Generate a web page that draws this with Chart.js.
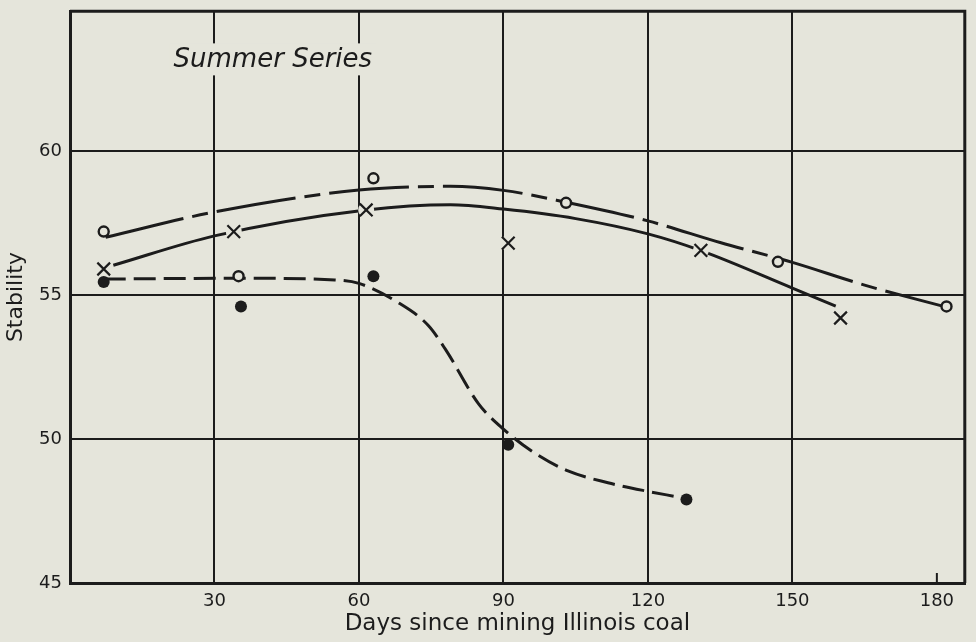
<!DOCTYPE html>
<html>
<head>
<meta charset="utf-8">
<title>Summer Series</title>
<script src="https://cdn.jsdelivr.net/npm/chart.js@4.4.1/dist/chart.umd.min.js"></script>
<style>
  body { margin: 0; background: #e5e5db; }
  #wrap { width: 976px; height: 642px; }
</style>
</head>
<body>
<div id="wrap"><canvas id="stabilityChart"></canvas></div>
<script>
// measured points: days since mining vs stability
const circleDays = [7, 63, 103, 147, 182];
const circleStability = [57.2, 59.05, 58.2, 56.15, 54.6];
const crossDays = [7, 34, 61.5, 91, 131, 160];
const crossStability = [55.9, 57.2, 57.95, 56.8, 56.55, 54.2];
const dotDays = [7, 35.5, 63, 91, 128];
const dotStability = [55.45, 54.6, 55.65, 49.8, 47.9];
const strayDays = [35];
const strayStability = [55.65];

// hand drawn curves
const upperCurveDays = [7.4, 30, 60, 79, 90, 103, 120, 135, 150, 165, 181];
const upperCurveStability = [57.0, 57.88, 58.64, 58.77, 58.63, 58.22, 57.57, 56.82, 56.13, 55.34, 54.62];
const middleCurveDays = [9, 30, 61.5, 79, 90, 105, 120, 131, 150, 159];
const middleCurveStability = [56.03, 57.05, 57.95, 58.13, 57.98, 57.65, 57.12, 56.54, 55.24, 54.61];
const lowerCurveDays = [7, 35, 55, 60, 68, 74.4, 78, 84.8, 90, 96.6, 103.4, 111.7, 120, 125.8];
const lowerCurveStability = [55.55, 55.58, 55.52, 55.4, 54.75, 53.94, 53.1, 51.23, 50.34, 49.5, 48.89, 48.48, 48.18, 48.0];

const xTicks = [30, 60, 90, 120, 150, 180];
const yTicks = [45, 50, 55, 60];

const ink = "#1c1c1c";
const paper = "#e5e5db";
const font = "'DejaVu Sans', sans-serif";

const pts = (xs, ys) => xs.map((x, i) => ({ x: x, y: ys[i] }));

const curve = (xs, ys, dash) => ({
    data: pts(xs, ys),
    showLine: true,
    borderColor: ink,
    borderWidth: 3,
    borderDash: dash,
    cubicInterpolationMode: "monotone",
    pointRadius: 0,
    order: 3
});

// frame, the lone 180 tick and the panel caption
const framePlugin = {
    id: "frame",
    beforeDatasetsDraw(chart) {
        const { ctx, scales: { x, y } } = chart;
        ctx.save();
        ctx.font = "italic 26px " + font;
        const tx = x.getPixelForValue(21.5);
        const ty = y.getPixelForValue(62.9);
        const w = ctx.measureText("Summer Series").width;
        ctx.fillStyle = paper;
        ctx.fillRect(tx - 4, ty - 24, w + 8, 32);
        ctx.fillStyle = ink;
        ctx.fillText("Summer Series", tx, ty);
        ctx.restore();
    },
    afterDraw(chart) {
        const { ctx, chartArea: a, scales: { x } } = chart;
        ctx.save();
        ctx.strokeStyle = ink;
        ctx.lineWidth = 3;
        ctx.beginPath();
        ctx.moveTo(a.left, a.top);
        ctx.lineTo(a.right, a.top);
        ctx.lineTo(a.right, a.bottom);
        ctx.stroke();
        const px = x.getPixelForValue(180);
        ctx.lineWidth = 2;
        ctx.beginPath();
        ctx.moveTo(px, a.bottom);
        ctx.lineTo(px, a.bottom - 10);
        ctx.stroke();
        ctx.restore();
    }
};

const ctx1 = document.getElementById("stabilityChart").getContext("2d");
new Chart(ctx1, {
    type: "scatter",
    data: {
        datasets: [
            curve(upperCurveDays, upperCurveStability, [80, 9, 16, 9]),
            curve(middleCurveDays, middleCurveStability, []),
            curve(lowerCurveDays, lowerCurveStability, [22, 8]),
            {
                // paper-coloured halo so the solid line breaks at each cross
                data: pts(crossDays, crossStability),
                pointStyle: "circle",
                pointRadius: 8,
                pointBorderWidth: 0,
                pointBackgroundColor: paper,
                order: 2
            },
            {
                data: pts(circleDays, circleStability),
                pointStyle: "circle",
                pointRadius: 5,
                pointBorderWidth: 2.4,
                pointBorderColor: ink,
                pointBackgroundColor: paper,
                order: 1
            },
            {
                data: pts(strayDays, strayStability),
                pointStyle: "circle",
                pointRadius: 5,
                pointBorderWidth: 2.4,
                pointBorderColor: ink,
                pointBackgroundColor: paper,
                order: 1
            },
            {
                data: pts(crossDays, crossStability),
                pointStyle: "crossRot",
                pointRadius: 9,
                pointBorderWidth: 2.2,
                pointBorderColor: ink,
                order: 1
            },
            {
                data: pts(dotDays, dotStability),
                pointStyle: "circle",
                pointRadius: 6,
                pointBorderWidth: 0,
                pointBackgroundColor: ink,
                order: 1
            }
        ]
    },
    options: {
        responsive: true,
        maintainAspectRatio: false,
        animation: false,
        layout: { padding: { top: 3, right: 10, left: 0, bottom: 0 } },
        plugins: { legend: { display: false }, tooltip: { enabled: false } },
        scales: {
            x: {
                type: "linear",
                min: 0,
                max: 185.8,
                afterBuildTicks: s => { s.ticks = xTicks.map(v => ({ value: v })); },
                afterFit: s => { s.height = 59; s.paddingLeft = 0; s.paddingRight = 0; },
                ticks: { color: ink, font: { family: font, size: 18 }, padding: 8, maxRotation: 0 },
                grid: {
                    color: c => (c.tick && c.tick.value === 180 ? "rgba(0,0,0,0)" : ink),
                    lineWidth: 2,
                    drawTicks: false
                },
                border: { color: ink, width: 3 },
                title: {
                    display: true,
                    text: "Days since mining Illinois coal",
                    color: ink,
                    font: { family: font, size: 23 },
                    padding: { top: 0, bottom: 4 }
                }
            },
            y: {
                min: 45,
                max: 64.85,
                afterBuildTicks: s => { s.ticks = yTicks.map(v => ({ value: v })); },
                afterFit: s => { s.width = 70; s.paddingTop = 0; s.paddingBottom = 0; },
                ticks: { color: ink, font: { family: font, size: 18 }, padding: 8 },
                grid: { color: ink, lineWidth: 2, drawTicks: false },
                border: { color: ink, width: 3 },
                title: {
                    display: true,
                    text: "Stability",
                    color: ink,
                    font: { family: font, size: 22 },
                    padding: { top: 3, bottom: 0 }
                }
            }
        }
    },
    plugins: [framePlugin]
});
</script>
</body>
</html>
